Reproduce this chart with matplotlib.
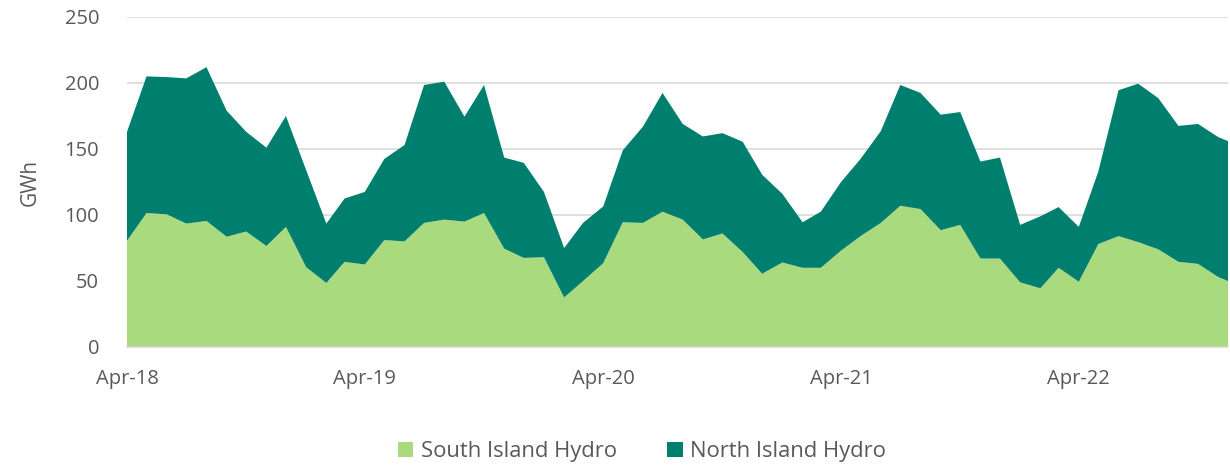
import numpy as np
import pandas as pd
import matplotlib
matplotlib.use("Agg")
import matplotlib.pyplot as plt
import matplotlib.dates as mdates

plt.rcParams['font.family'] = ['Open Sans', 'DejaVu Sans']

# monthly generation, Apr-18 to Dec-22 (GWh)
months = pd.date_range("2018-04-01", "2022-12-01", freq="MS")
total = [163, 205, 204.5, 203.5, 212, 179, 163, 151, 175, 134, 93.5, 112.5,
         117.5, 142.5, 153, 198.5, 201, 174.5, 198.5, 143.5, 139.5, 117.5, 75, 94,
         106.5, 149, 167, 192.5, 169, 159.5, 162, 155.5, 130.5, 116, 94.5, 102.5,
         125, 142.5, 163.5, 198.5, 192.5, 176, 178, 140.5, 143.5, 92.5, 99, 106,
         91, 133, 194.5, 199.5, 188.5, 167.5, 169, 159, 153]
south = [80.5, 101.5, 100.5, 93.5, 95.5, 83.5, 87.5, 76.5, 91, 60.5, 48.5, 64.5,
         62.5, 81, 80, 94, 96.5, 95, 101.5, 74.5, 67.5, 68, 37.5, 50,
         63.5, 94.5, 94, 102.5, 96.5, 81.5, 86, 72, 55.5, 64, 60, 60,
         73, 84, 94, 107, 104.5, 88.5, 92.5, 67, 67, 49, 44.5, 60,
         49.5, 78, 84, 79.5, 74, 64.5, 63, 53, 47]
north = [t - s for t, s in zip(total, south)]

labels = ["South Island Hydro", "North Island Hydro"]
colors = ["#A9DA7E", "#007F6E"]
grey_text = "#595959"

fig = plt.figure(figsize=(12.3, 4.67), dpi=100)
ax = fig.add_axes([127 / 1230, 120 / 467, 1101 / 1230, 330 / 467])

ax.stackplot(months, south, north, labels=labels, colors=colors, linewidth=0)

ax.set_ylim(0, 250)
ax.set_yticks(range(0, 251, 50))
ax.set_xlim(pd.Timestamp("2018-04-01"), pd.Timestamp("2022-11-16"))
ax.xaxis.set_major_locator(mdates.MonthLocator(bymonth=4))
ax.xaxis.set_major_formatter(mdates.DateFormatter("%b-%y"))

ax.grid(axis="y", color="#D9D9D9", linewidth=1.2)
ax.set_axisbelow(True)
for side in ["top", "right", "left"]:
    ax.spines[side].set_visible(False)
ax.spines["bottom"].set_color("#D9D9D9")
ax.spines["bottom"].set_linewidth(1.2)
ax.tick_params(axis="both", length=0, labelsize=14.5, colors=grey_text)
ax.tick_params(axis="y", pad=20)
ax.tick_params(axis="x", pad=16)
ax.set_ylabel("GWh", fontsize=15, color=grey_text, labelpad=17)

handles, lbls = ax.get_legend_handles_labels()
fig.legend(handles, lbls, loc="center", bbox_to_anchor=(0.522, 0.033), ncol=2,
           frameon=False, fontsize=15.8, labelcolor=grey_text,
           handlelength=0.7, handleheight=0.7, handletextpad=0.35,
           columnspacing=2.3)

fig.savefig("out.png", dpi=100)
